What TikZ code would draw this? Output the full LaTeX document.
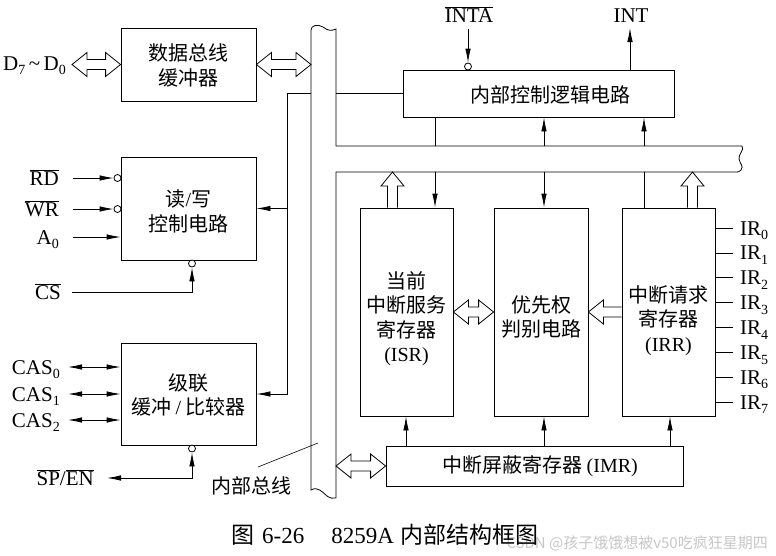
\documentclass[tikz,border=0pt]{standalone}
\usepackage{fontspec}
\setmainfont{Liberation Serif}
\newfontfamily\cjk{Noto Sans CJK SC}
\usetikzlibrary{arrows.meta,calc}
\newcommand\ovl[1]{$\overline{\mbox{#1}}$}
\newcommand\sub[1]{\raisebox{-4.5pt}{\fontsize{14}{14}\selectfont #1}}
\newcommand\hollowdbl[2]{%
  \draw[hollow] let \p1=(#1), \p2=(#2) in
  (\x1,\y1) -- (\x1+15pt,\y1+12pt) -- (\x1+15pt,\y1+5pt) -- (\x2-15pt,\y1+5pt) -- (\x2-15pt,\y1+12pt)
  -- (\x2,\y1) -- (\x2-15pt,\y1-12pt) -- (\x2-15pt,\y1-5pt) -- (\x1+15pt,\y1-5pt) -- (\x1+15pt,\y1-12pt) -- cycle;}
\newcommand\hollowup[2]{%
  \draw[hollow] let \p1=(#1), \p2=(#2) in
  (\x1-5pt,\y1) -- (\x1-5pt,\y2-14pt) -- (\x1-11.5pt,\y2-14pt) -- (\x1,\y2) -- (\x1+11.5pt,\y2-14pt)
  -- (\x1+5pt,\y2-14pt) -- (\x1+5pt,\y1);}
\newcommand\hollowleft[2]{%
  \draw[hollow] let \p1=(#1), \p2=(#2) in
  (\x1,\y1+5pt) -- (\x2+15pt,\y1+5pt) -- (\x2+15pt,\y1+12pt) -- (\x2,\y1) -- (\x2+15pt,\y1-12pt)
  -- (\x2+15pt,\y1-5pt) -- (\x1,\y1-5pt);}
\begin{document}
\begin{tikzpicture}[x=1pt,y=-1pt,
  font=\fontsize{21}{24.5}\selectfont,
  box/.style={draw,line width=0.8pt,inner sep=0pt},
  txt/.style={inner sep=0pt,align=center,font=\fontsize{20}{24.5}\selectfont\cjk},
  lbl/.style={inner sep=0pt},
  dot/.style={circle,draw,line width=0.8pt,fill=white,minimum size=7pt,inner sep=0pt},
  arr/.style={line width=0.8pt,-{Latex[length=14pt,width=5.5pt]}},
  darr/.style={line width=0.8pt,{Latex[length=14pt,width=5.5pt]}-{Latex[length=14pt,width=5.5pt]}},
  ln/.style={line width=0.8pt},
  hollow/.style={draw,line width=0.8pt,fill=white,line join=miter},
  ]
\useasboundingbox (0,0) rectangle (776,555);

% watermark (behind everything)
\node[lbl,anchor=east,text=gray!45,font=\fontsize{15}{16}\selectfont\cjk] (wm) at (768,543)
  {CSDN @孩子饿饿想被v50吃疯狂星期四};

% internal bus outline
\draw[ln] (742,146) -- (336,146) -- (336,29)
  .. controls (332,31) and (328,31) .. (323,27)
  .. controls (318,24) and (311,25) .. (311,30)
  -- (311,490)
  .. controls (318,486) and (322,492) .. (327,496)
  .. controls (330,498) and (333,499) .. (336,498)
  -- (336,172) -- (734,172)
  .. controls (739,172) .. (741,170)
  .. controls (744,166) and (740,164) .. (739,159)
  .. controls (738,154) and (745,150) .. (742,146);
\coordinate (busL) at (311,0);
\coordinate (busR) at (336,0);
\coordinate (hbT) at (0,146);
\coordinate (hbB) at (0,172);

% boxes
\node[box,minimum width=135pt,minimum height=73pt] (dbb) at (188.5,64.5) {};
\node[box,minimum width=135pt,minimum height=103pt] (rw) at (188.5,208.5) {};
\node[box,minimum width=135pt,minimum height=102pt] (cas) at (188.5,394) {};
\node[box,minimum width=271pt,minimum height=47pt] (ctrl) at (538.5,93.5) {};
\node[box,minimum width=93pt,minimum height=208pt] (isr) at (406.5,312) {};
\node[box,minimum width=94pt,minimum height=208pt] (pri) at (541,312) {};
\node[box,minimum width=93pt,minimum height=208pt] (irr) at (668.5,312) {};
\node[box,minimum width=297pt,minimum height=40pt] (imr) at (534.5,466) {};

% box texts
\node[txt] (dbbt) at (188.5,65.5) {数据总线\\缓冲器};
\node[txt] (rwt) at (188.5,211.5) {读{\rmfamily /}写\\控制电路};
\node[txt] (cast) at (188.5,395) {级联\\缓冲 {\rmfamily /} 比较器};
\node[txt] (ctrlt) at (550.5,94.5) {内部控制逻辑电路};
\node[txt] (isrt) at (406.5,318.5) {当前\\中断服务\\寄存器\\{\rmfamily (ISR)}};
\node[txt] (prit) at (541,317) {优先权\\判别电路};
\node[txt] (irrt) at (668.5,320.5) {中断请求\\寄存器\\{\rmfamily (IRR)}};
\node[txt] (imrt) at (540,466.5) {中断屏蔽寄存器 {\rmfamily (IMR)}};

% left labels
\node[lbl,anchor=base east] (dlab) at (66,70) {D\sub{7}\,\textasciitilde\,D\sub{0}};
\node[lbl,anchor=base east] (rdl) at (59,185) {\ovl{RD}};
\node[lbl,anchor=base east] (wrl) at (59,216) {\ovl{WR}};
\node[lbl,anchor=base east] (a0l) at (59,244) {A\sub{0}};
\node[lbl,anchor=base east] (csl) at (61,299) {\ovl{CS}};
\node[lbl,anchor=base east] (c0l) at (60,374) {CAS\sub{0}};
\node[lbl,anchor=base east] (c1l) at (60,401) {CAS\sub{1}};
\node[lbl,anchor=base east] (c2l) at (60,427) {CAS\sub{2}};
\node[lbl,anchor=base east] (spl) at (94,485) {\ovl{SP}/\ovl{EN}};
\node[lbl,anchor=base] (intal) at (469,22) {\ovl{INTA}};
\node[lbl,anchor=base] (intl) at (631,22) {INT};
\node[lbl,font=\fontsize{20}{24}\selectfont\cjk] (busname) at (251,486) {内部总线};

% hollow arrows
\coordinate (dL) at (72,64.5);
\hollowdbl{dL}{dbb.west}
\hollowdbl{dbb.east}{dbb.east -| busL}
\hollowdbl{isr.east}{pri.west}
\hollowleft{irr.west}{pri.east}
\hollowdbl{imr.west -| busR}{imr.west}
\coordinate (isrA) at (392.5,0);
\coordinate (irrA) at (692.5,0);
\hollowup{isr.north -| isrA}{hbB -| isrA}
\hollowup{irr.north -| irrA}{hbB -| irrA}

% read/write control inputs
\node[dot] (crd) at (117.5,178) {};
\node[dot] (cwr) at (117.5,209) {};
\coordinate (rdS) at (73,178);
\coordinate (wrS) at (73,209);
\coordinate (a0S) at (73,237);
\draw[arr] (rdS) -- (crd.west);
\draw[arr] (wrS) -- (cwr.west);
\draw[arr] (a0S) -- (rw.west |- a0S);
\node[dot] (ccs) at (192,263.5) {};
\coordinate (csS) at (72,292);
\draw[arr] (csS) -| (ccs.south);

% cascade
\foreach \n/\yy in {0/367,1/394,2/420}{
  \coordinate (cs\n) at (68,\yy);
  \draw[darr] (cs\n) -- (cas.west |- cs\n);
}
\node[dot] (csp) at (192,448.5) {};
\coordinate (spS) at (107,478);
\draw[darr] (csp.south) |- (spS);

% internal bus branches on the left
\coordinate (j1) at (287,93);
\draw[arr] (j1 -| busL) -- (j1) |- (cas.east);
\draw[arr] (rw.east -| j1) -- (rw.east);
\draw[ln] (ctrl.west -| busR) -- (ctrl.west);

% INTA / INT
\node[dot] (cin) at (468,66.5) {};
\coordinate (intaS) at (468,29);
\draw[arr] (intaS) -- (cin.north);
\coordinate (intS) at (630,28);
\draw[arr] (ctrl.north -| intS) -- (intS);

% control logic <-> bus <-> registers
\coordinate (v1) at (435,0);
\coordinate (v2) at (544,0);
\coordinate (v3) at (644,0);
\draw[ln] (ctrl.south -| v1) -- (hbT -| v1);
\draw[arr] (hbB -| v1) -- (isr.north -| v1);
\draw[arr] (hbT -| v2) -- (ctrl.south -| v2);
\draw[arr] (hbB -| v2) -- (pri.north -| v2);
\draw[arr] (hbT -| v3) -- (ctrl.south -| v3);
\draw[ln] (hbB -| v3) -- (irr.north -| v3);

% IMR -> registers
\coordinate (w1) at (406,0);
\coordinate (w2) at (544,0);
\coordinate (w3) at (670,0);
\draw[arr] (imr.north -| w1) -- (isr.south -| w1);
\draw[arr] (imr.north -| w2) -- (pri.south -| w2);
\draw[arr] (imr.north -| w3) -- (irr.south -| w3);

% IR inputs
\foreach \i in {0,...,7}{
  \pgfmathsetmacro\yy{228+24.9*\i}
  \coordinate (ir\i) at (733,\yy);
  \draw[ln] (irr.east |- ir\i) -- (ir\i);
  \node[lbl,anchor=base west] (irl\i) at (740,\yy+7) {IR\sub{\i}};
}

% bus name leader
\coordinate (ldA) at (258,467);
\coordinate (ldB) at (318,443);
\draw[line width=0.6pt] (ldA) -- (ldB);

% caption
\node[lbl,font=\fontsize{23}{25}\selectfont] (cap) at (385,535)
  {{\cjk 图}\hspace{8pt}6-26\hspace{27pt}8259A\hspace{7pt}{\cjk 内部结构框图}};
\end{tikzpicture}
\end{document}
